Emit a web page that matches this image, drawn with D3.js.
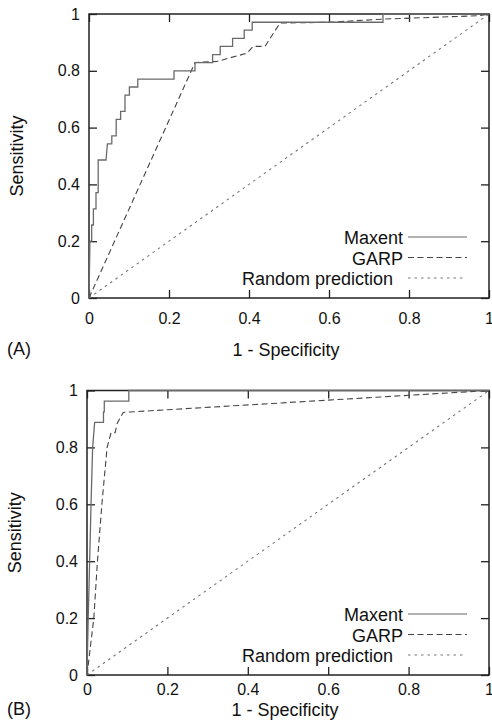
<!DOCTYPE html>
<html>
<head>
	<title>ROC curves</title>
	<script src="https://d3js.org/d3.v7.min.js"></script>
	<style>
		body { margin: 0; background: #fff; }
		svg text { font-family: "Liberation Sans", Arial, sans-serif; fill: #111; }
	</style>
</head>
<body>
	<svg id="chart" width="492" height="722"></svg>
<script type="text/javascript">
	// axis ticks shared by both panels
	var tickValues = [0, 0.2, 0.4, 0.6, 0.8, 1];
	var tickLabels = ["0", "0.2", "0.4", "0.6", "0.8", "1"];
	var seriesNames = ["Maxent", "GARP", "Random prediction"];
	var panelLabels = ["(A)", "(B)"];

	// panel A, [1 - specificity, sensitivity]
	var maxentA = [[0,0],[0.002,0.17],[0.002,0.2],[0.0067,0.2],[0.0067,0.257],[0.011,0.257],[0.011,0.314],
		[0.0175,0.314],[0.0175,0.371],[0.023,0.371],[0.023,0.486],[0.0425,0.486],[0.046,0.543],[0.057,0.543],
		[0.057,0.571],[0.068,0.571],[0.068,0.629],[0.079,0.629],[0.079,0.657],[0.09,0.657],[0.09,0.714],
		[0.101,0.714],[0.101,0.743],[0.122,0.743],[0.122,0.771],[0.2125,0.771],[0.2125,0.8],[0.265,0.8],
		[0.265,0.829],[0.309,0.829],[0.309,0.857],[0.328,0.857],[0.328,0.886],[0.359,0.886],[0.359,0.914],
		[0.388,0.914],[0.388,0.943],[0.408,0.943],[0.408,0.971],[0.735,0.971],[0.735,1],[1,1]];
	var garpA = [[0,0],[0.265,0.829],[0.32,0.833],[0.395,0.862],[0.41,0.886],[0.44,0.886],[0.4775,0.968],
		[0.6,0.971],[0.735,0.982],[0.975,0.994],[1,1]];

	// panel B
	var maxentB = [[0,0],[0.003,0.2],[0.0066,0.4],[0.01,0.6],[0.014,0.8],[0.019,0.888],[0.041,0.888],
		[0.041,0.925],[0.043,0.925],[0.043,0.963],[0.104,0.963],[0.104,1],[1,1]];
	var garpB = [[0,0],[0.017,0.2],[0.026,0.4],[0.037,0.6],[0.05,0.8],[0.06,0.852],[0.07,0.852],
		[0.075,0.884],[0.09,0.923],[1,1]];

	var randomLine = [[0,0],[1,1]];

	var svg = d3.select('#chart');

	function drawPanel(p) {
		var x = d3.scaleLinear().domain([0, 1]).range([p.left, p.right]);
		var y = d3.scaleLinear().domain([0, 1]).range([p.bottom, p.top]);
		var g = svg.append('g');

		var fmt = function(d) { return tickLabels[tickValues.indexOf(d)]; };

		g.append('g')
			.attr('transform', 'translate(0,' + p.bottom + ')')
			.call(d3.axisBottom(x).tickValues(tickValues).tickFormat(fmt).tickSize(-8).tickPadding(p.xPad));
		g.append('g')
			.attr('transform', 'translate(' + p.left + ',0)')
			.call(d3.axisLeft(y).tickValues(tickValues).tickFormat(fmt).tickSize(-8).tickPadding(9));
		g.append('g')
			.attr('transform', 'translate(0,' + p.top + ')')
			.call(d3.axisTop(x).tickValues(tickValues).tickFormat('').tickSize(-8));
		g.append('g')
			.attr('transform', 'translate(' + p.right + ',0)')
			.call(d3.axisRight(y).tickValues(tickValues).tickFormat('').tickSize(-8));

		g.selectAll('.domain').remove();
		g.selectAll('.tick line').attr('stroke', '#222').attr('stroke-width', 1.3);
		g.selectAll('.tick text').style('font-size', '16px').attr('fill', '#111');

		g.append('rect')
			.attr('x', p.left).attr('y', p.top)
			.attr('width', p.right - p.left).attr('height', p.bottom - p.top)
			.attr('fill', 'none').attr('stroke', '#222').attr('stroke-width', 1.5);

		var line = d3.line().x(function(d) { return x(d[0]); }).y(function(d) { return y(d[1]); });

		var styles = [
			{ stroke: '#6a6a6a', width: 1.3, dash: null },
			{ stroke: '#444', width: 1.1, dash: '6,3.5' },
			{ stroke: '#777', width: 1.1, dash: '2.5,4' }
		];
		var series = [p.maxent, p.garp, randomLine];

		// random first so the curves sit on top
		[2, 1, 0].forEach(function(i) {
			g.append('path')
				.attr('d', line(series[i]))
				.attr('fill', 'none')
				.attr('stroke', styles[i].stroke)
				.attr('stroke-width', styles[i].width)
				.attr('stroke-dasharray', styles[i].dash);
		});

		// legend
		seriesNames.forEach(function(name, i) {
			var base = p.bottom - 54 + i * 20.5;
			g.append('text')
				.attr('x', p.right - (i == 2 ? 96 : 86))
				.attr('y', base)
				.attr('text-anchor', 'end')
				.style('font-size', '18px')
				.text(name);
			g.append('line')
				.attr('x1', p.right - 81).attr('x2', p.right - (i == 2 ? 26 : 22))
				.attr('y1', base - 7).attr('y2', base - 7)
				.attr('stroke', i == 0 ? '#999' : styles[i].stroke)
				.attr('stroke-width', styles[i].width)
				.attr('stroke-dasharray', styles[i].dash);
		});

		// titles
		g.append('text')
			.attr('x', (p.left + p.right) / 2 - 3)
			.attr('y', p.titleY)
			.attr('text-anchor', 'middle')
			.style('font-size', '18px')
			.text('1 - Specificity');
		g.append('text')
			.attr('x', 7)
			.attr('y', p.titleY - 1)
			.style('font-size', '18px')
			.text(p.label);
		g.append('text')
			.attr('transform', 'translate(' + p.yTitleX + ',' + ((p.top + p.bottom) / 2) + ') rotate(-90)')
			.attr('text-anchor', 'middle')
			.style('font-size', '18px')
			.text('Sensitivity');
	}

	drawPanel({ left: 89, right: 489, top: 14, bottom: 298, xPad: 15, titleY: 356, yTitleX: 23,
		maxent: maxentA, garp: garpA, label: panelLabels[0] });
	drawPanel({ left: 87, right: 489, top: 390.5, bottom: 675, xPad: 9, titleY: 716, yTitleX: 21,
		maxent: maxentB, garp: garpB, label: panelLabels[1] });
</script>
</body>
</html>
